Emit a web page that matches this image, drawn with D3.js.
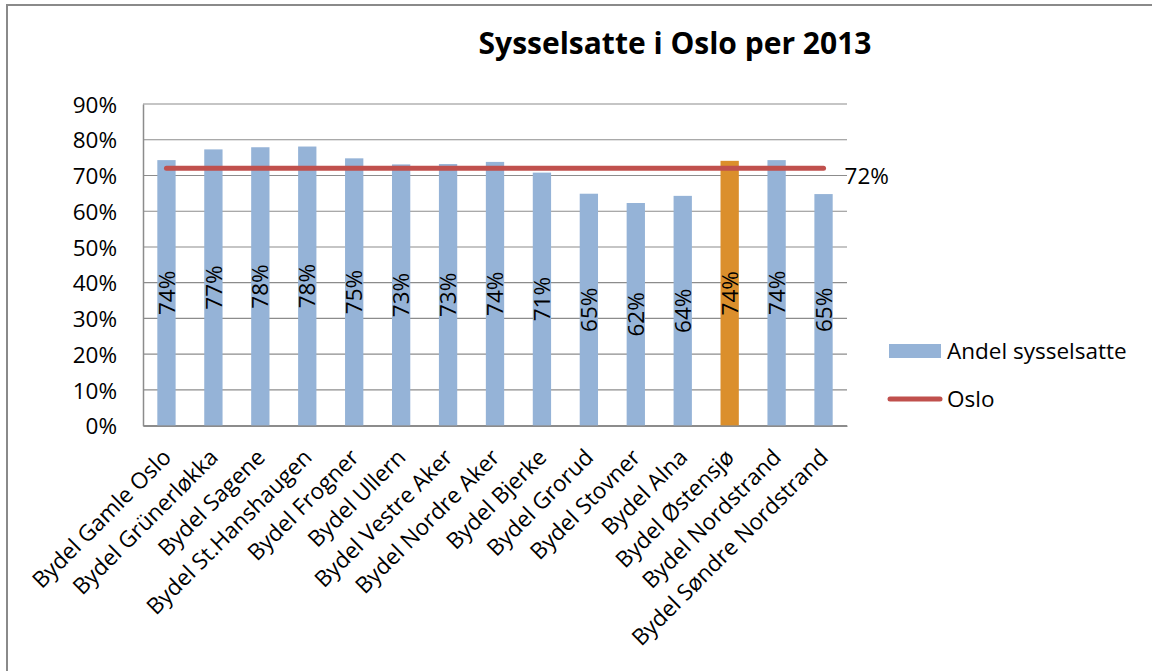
<!DOCTYPE html>
<html>
<head>
<meta charset="utf-8">
<script src="https://cdn.jsdelivr.net/npm/d3@7"></script>
<style>
  body { margin: 0; background: #fff; }
  svg text { font-family: "Open Sans", Calibri, sans-serif; fill: #000; }
</style>
</head>
<body>
<div id="chart"></div>
<script>
'use strict';

const districts = ['Bydel Gamle Oslo', 'Bydel Grünerløkka', 'Bydel Sagene', 'Bydel St.Hanshaugen',
  'Bydel Frogner', 'Bydel Ullern', 'Bydel Vestre Aker', 'Bydel Nordre Aker', 'Bydel Bjerke',
  'Bydel Grorud', 'Bydel Stovner', 'Bydel Alna', 'Bydel Østensjø', 'Bydel Nordstrand',
  'Bydel Søndre Nordstrand'];
const employed = [0.743, 0.773, 0.779, 0.781, 0.748, 0.731, 0.732, 0.738, 0.708,
  0.649, 0.623, 0.643, 0.741, 0.743, 0.648];
const osloAvg = [0.72, 0.72, 0.72, 0.72, 0.72, 0.72, 0.72, 0.72, 0.72,
  0.72, 0.72, 0.72, 0.72, 0.72, 0.72];
const highlighted = ['Bydel Østensjø'];
const yTicks = [0, 0.1, 0.2, 0.3, 0.4, 0.5, 0.6, 0.7, 0.8, 0.9];
const seriesNames = ['Andel sysselsatte', 'Oslo'];

const width = 1152;
const height = 671;
const plot = { left: 143, right: 847, top: 104, bottom: 425.7 };
const pct = d3.format('.0%');
const fs = '22.5px';

const svg = d3.select('#chart')
  .append('svg')
  .attr('width', width)
  .attr('height', height);

// frame (only top and left edges visible)
svg.append('path')
  .attr('d', `M7,${height} V5 H${width}`)
  .attr('fill', 'none')
  .attr('stroke', '#8a8a8a')
  .attr('stroke-width', 2);

svg.append('text')
  .attr('x', 675)
  .attr('y', 54)
  .attr('text-anchor', 'middle')
  .style('font-size', '30px')
  .style('font-weight', 'bold')
  .text('Sysselsatte i Oslo per 2013');

const x = d3.scaleBand()
  .domain(districts)
  .range([plot.left, plot.right])
  .paddingInner(0.61)
  .paddingOuter(0.305);

const y = d3.scaleLinear()
  .domain([0, 0.9])
  .range([plot.bottom, plot.top]);

// gridlines
svg.append('g')
  .selectAll('line')
  .data(yTicks)
  .enter()
  .append('line')
  .attr('x1', plot.left)
  .attr('x2', plot.right)
  .attr('y1', d => y(d))
  .attr('y2', d => y(d))
  .attr('stroke', '#8c8c8c')
  .attr('stroke-width', 1.2);

// y axis
const yAxis = svg.append('g')
  .attr('transform', `translate(${plot.left},0)`)
  .call(d3.axisLeft(y).tickValues(yTicks).tickFormat(pct).tickSize(0).tickPadding(26));
yAxis.select('.domain').attr('stroke', '#8c8c8c').attr('stroke-width', 1.5);
yAxis.selectAll('text').style('font-size', fs).attr('dy', '0.36em');

// bars
svg.append('g')
  .selectAll('rect')
  .data(districts)
  .enter()
  .append('rect')
  .attr('x', d => x(d))
  .attr('width', x.bandwidth())
  .attr('y', (d, i) => y(employed[i]))
  .attr('height', (d, i) => y(0) - y(employed[i]))
  .attr('fill', d => highlighted.includes(d) ? '#DB8F2C' : '#95B3D7');

// x axis
const xAxis = svg.append('g')
  .attr('transform', `translate(0,${plot.bottom})`)
  .call(d3.axisBottom(x).tickSize(0).tickPadding(0));
xAxis.select('.domain').attr('stroke', '#8c8c8c').attr('stroke-width', 1.5);
xAxis.selectAll('text')
  .style('font-size', fs)
  .attr('text-anchor', 'end')
  .attr('y', 0)
  .attr('dy', null)
  .attr('transform', 'translate(6,33) rotate(-45)');

// bar value labels
svg.append('g')
  .selectAll('text')
  .data(districts)
  .enter()
  .append('text')
  .attr('transform', (d, i) => {
    const cx = x(d) + x.bandwidth() / 2;
    const cy = (y(0) + y(employed[i])) / 2;
    return `translate(${cx},${cy}) rotate(-90)`;
  })
  .attr('text-anchor', 'middle')
  .attr('dy', '0.36em')
  .style('font-size', fs)
  .text((d, i) => pct(employed[i]));

// Oslo line
const line = d3.line()
  .x((d, i) => x(districts[i]) + x.bandwidth() / 2)
  .y(d => y(d));

svg.append('path')
  .datum(osloAvg)
  .attr('d', line)
  .attr('fill', 'none')
  .attr('stroke', '#C0504D')
  .attr('stroke-width', 5)
  .attr('stroke-linecap', 'round');

const last = osloAvg.length - 1;
svg.append('text')
  .attr('x', x(districts[last]) + x.bandwidth() / 2 + 21)
  .attr('y', y(osloAvg[last]) + 16)
  .style('font-size', fs)
  .text(pct(osloAvg[last]));

// legend
const legend = svg.append('g').attr('transform', 'translate(889,351)');
legend.append('rect')
  .attr('x', 0).attr('y', -7)
  .attr('width', 52).attr('height', 14)
  .attr('fill', '#95B3D7');
legend.append('line')
  .attr('x1', 1).attr('x2', 51)
  .attr('y1', 48).attr('y2', 48)
  .attr('stroke', '#C0504D')
  .attr('stroke-width', 5)
  .attr('stroke-linecap', 'round');
legend.selectAll('text.lbl')
  .data(seriesNames)
  .enter()
  .append('text')
  .attr('class', 'lbl')
  .attr('x', 58)
  .attr('y', (d, i) => i * 48)
  .attr('dy', '0.36em')
  .style('font-size', fs)
  .text(d => d);
</script>
</body>
</html>
